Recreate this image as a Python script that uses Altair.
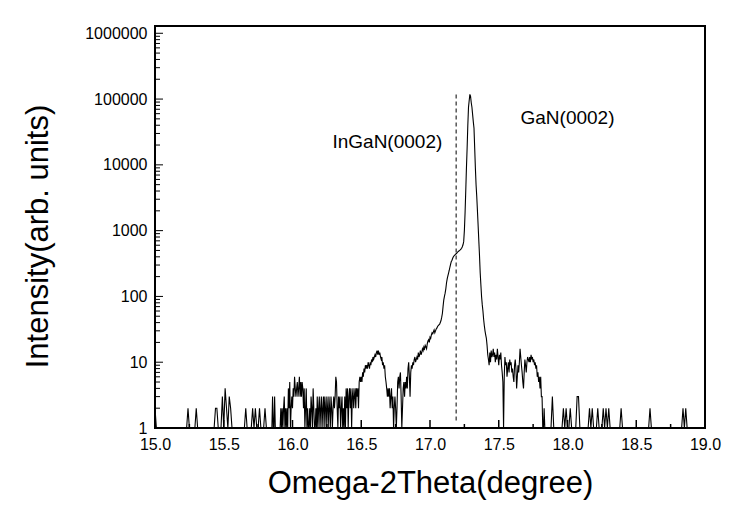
import altair as alt
import pandas as pd

# ---------------- data ----------------
# each segment: start angle, step, intensities
seg1_start, seg1_step = 15.00, 0.01
seg1 = [
    2, 1, 1, 1, 1, 1, 1, 1, 1, 1,
    1, 1, 1, 1, 1, 1, 1, 1, 1, 1,
    1, 1, 1, 1, 2, 1, 1, 1, 1, 1,
    2, 1, 1, 1, 1, 1, 1, 1, 1, 1,
    1, 1, 1, 1, 2, 2, 1, 1, 1, 3,
    1, 4, 2, 1, 3, 2, 1, 1, 1, 1,
    1, 1, 1, 1, 1, 1, 2, 1, 1, 1,
    1, 2, 1, 2, 1, 1, 2, 1, 1, 1,
    2, 1, 1, 1, 1,
]

seg2_start, seg2_step = 15.85, 0.005
seg2 = [
    1, 3, 1, 1, 3, 1, 1, 1, 1, 1,
    1, 1, 1, 2, 1, 2, 1, 2, 3, 1,
    2, 1, 2, 1, 4, 2, 5, 1, 2, 3,
    2, 4, 3, 6, 4, 3, 4, 5, 3, 4,
    6, 3, 5, 3, 5, 4, 2, 4, 1, 2,
    4, 1, 2, 1, 1, 2, 1, 3, 2, 1,
    4, 2, 1, 1, 2, 1, 3, 1, 2, 3,
    1, 2, 3, 1, 2, 3, 1, 3, 2, 1,
    3, 2, 1, 3, 2, 1, 3, 2, 1, 2,
    3, 2, 3, 6, 5, 2, 1, 3, 2, 3,
    1, 2, 3, 1, 2, 1, 3, 1, 4, 2,
    4, 1, 3, 4, 2, 4, 1, 3, 4, 2,
    3, 4, 2, 4, 3, 4, 2, 5, 6, 5,
    6,
]

seg3_start, seg3_step = 16.505, 0.005
seg3 = [
    5, 7, 6, 8, 7, 9, 8, 9, 8, 10,
    9, 8, 10, 9, 11, 10, 12, 11, 12, 13,
    12, 14, 15, 13, 15, 13, 14, 12, 11, 12,
    9, 10, 8, 9, 6, 5, 4, 3, 4, 3,
    4, 2, 3, 4, 2, 3, 1, 2, 3, 2,
    1, 2, 5, 6, 4, 6, 7, 3, 1, 2,
    4, 5, 3, 5, 4, 6, 4, 8, 10, 6,
    3, 7, 9, 8, 10, 9, 11, 12, 10, 11,
    12, 11, 14, 12, 13, 15, 13, 14, 16, 15,
    17, 16, 18, 17, 16, 19, 21, 22, 20, 24,
]

seg4_start, seg4_step = 17.005, 0.005
seg4 = [
    23, 26, 28, 27, 29, 31, 28, 30, 32, 33,
    35, 36, 37, 38, 40, 43, 48, 55, 70, 88,
    100, 112, 130, 160, 185, 205, 226, 250, 280, 310,
    340, 355, 380, 400, 415, 425, 435, 445, 455, 470,
    480, 490, 500, 510, 525, 540, 570, 610, 680, 1000,
    1850, 4000, 9000, 18000, 40000, 75000, 95000, 118000, 110000, 88000,
    75000, 58000, 45000, 36000, 18000, 9000, 5000, 3300, 2000, 1200,
    700, 420, 230, 150, 100, 75, 60, 45, 36, 30,
    26, 23, 18, 13, 11, 9, 14, 10, 15, 12,
]

seg5_start, seg5_step = 17.455, 0.005
seg5 = [
    13, 16, 12, 14, 10, 13, 11, 16, 12, 9,
    13, 11, 14, 9, 7, 5, 1, 6, 12, 9,
    10, 6, 8, 10, 7, 11, 9, 10, 7, 8,
    6, 5, 9, 11, 8, 4, 6, 9, 7, 10,
    16, 12, 9, 7, 5, 4, 7, 11, 9, 7,
    10, 12, 11, 10, 12, 10, 13, 11, 12, 10,
    11, 9, 10, 8, 9, 6, 7, 5, 6, 4,
    6, 3, 3, 1, 1, 2, 1, 1, 1, 1,
]

seg6_start, seg6_step = 17.86, 0.01
seg6 = [
    1, 1, 1, 3, 1, 1, 1, 1, 1, 1,
    1, 2, 1, 2, 1, 1, 2, 1, 1, 1,
    1, 3, 3, 1, 1, 1, 1, 1, 1, 1,
    2, 1, 2, 1, 1, 1, 2, 1, 1, 1,
    2, 1, 2, 1, 2, 1, 1, 1, 1, 1,
    1, 1, 1, 2, 1, 1, 1, 1, 1, 1,
    1, 1, 1, 1, 1, 1, 1, 1, 1, 1,
    1, 1, 1, 1, 2, 1, 1, 1, 1, 1,
    1, 1, 1, 1, 1, 1, 1, 1, 1, 1,
    1, 1, 1, 1, 1, 1, 1, 1, 2, 1,
    2, 1, 1, 1, 1, 1, 1, 1, 1, 1,
    1, 1, 1, 1, 1,
]

# dashed marker line (InGaN position)
marker_x = [17.19]
marker_y_low = [1.3]
marker_y_high = [123000]

# annotations
label_text = ["InGaN(0002)", "GaN(0002)"]
label_x = [16.69, 18.0]
label_y = [22200, 51400]

# axis ticks / labels
x_major = [15.0, 15.5, 16.0, 16.5, 17.0, 17.5, 18.0, 18.5, 19.0]
x_minor = [15.25, 15.75, 16.25, 16.75, 17.25, 17.75, 18.25, 18.75]
y_major = [1, 10, 100, 1000, 10000, 100000, 1000000]
y_minor = [k * d for d in [1, 10, 100, 1000, 10000, 100000] for k in range(2, 10)]

# ---------------- build table ----------------
segments = [
    (seg1_start, seg1_step, seg1),
    (seg2_start, seg2_step, seg2),
    (seg3_start, seg3_step, seg3),
    (seg4_start, seg4_step, seg4),
    (seg5_start, seg5_step, seg5),
    (seg6_start, seg6_step, seg6),
]
xs, ys = [], []
for start, step, vals in segments:
    for i, v in enumerate(vals):
        xs.append(round(start + i * step, 4))
        ys.append(v)
df = pd.DataFrame({"theta": xs, "intensity": ys})

FONT = "Liberation Sans"
W, H = 550, 402

xscale = alt.Scale(domain=[15, 19], nice=False, zero=False)
yscale = alt.Scale(type="log", domain=[1, 1.29e6], nice=False)

x_axis = alt.Axis(values=x_major, format=".1f", title="Omega-2Theta(degree)",
                  grid=False, ticks=False, tickSize=0, domain=False,
                  labelFont=FONT, labelFontSize=16, labelColor="black",
                  labelPadding=8, labelFlush=False,
                  titleFont=FONT, titleFontSize=31, titleFontWeight="normal",
                  titleColor="black", titleBaseline="alphabetic",
                  titleY=64, titleX=W / 2)
y_axis = alt.Axis(values=y_major, format="d", title="Intensity(arb. units)",
                  grid=False, ticks=False, tickSize=0, domain=False,
                  labelFont=FONT, labelFontSize=16, labelColor="black",
                  labelPadding=8, labelFlush=False,
                  titleFont=FONT, titleFontSize=31, titleFontWeight="normal",
                  titleColor="black", titleBaseline="alphabetic",
                  titleX=-108, titleY=210, titleAngle=270)


def X(field="theta"):
    return alt.X(f"{field}:Q", scale=xscale, axis=x_axis)


def Y(field="intensity"):
    return alt.Y(f"{field}:Q", scale=yscale, axis=y_axis)


line = alt.Chart(df).mark_line(color="black", strokeWidth=1.1, clip=True).encode(
    x=X(), y=Y())

marker = alt.Chart(pd.DataFrame({"theta": marker_x, "intensity": marker_y_low,
                                 "intensity2": marker_y_high})).mark_rule(
    color="black", strokeWidth=1, strokeDash=[4, 3]
).encode(x=X(), y=Y(), y2="intensity2:Q")

labels = alt.Chart(pd.DataFrame({"theta": label_x, "intensity": label_y, "t": label_text})).mark_text(
    font=FONT, fontSize=19, color="black", align="center", baseline="middle"
).encode(x=X(), y=Y(), text="t:N")

ymaj_ticks = alt.Chart(pd.DataFrame({"intensity": y_major})).mark_rule(color="black", strokeWidth=1).encode(
    y=Y(), x=alt.value(0), x2=alt.value(8))
ymin_ticks = alt.Chart(pd.DataFrame({"intensity": y_minor})).mark_rule(color="black", strokeWidth=1).encode(
    y=Y(), x=alt.value(0), x2=alt.value(5))
xmaj_ticks = alt.Chart(pd.DataFrame({"theta": x_major})).mark_rule(color="black", strokeWidth=1.5).encode(
    x=X(), y=alt.value(H), y2=alt.value(H - 8))
xmin_ticks = alt.Chart(pd.DataFrame({"theta": x_minor})).mark_rule(color="black", strokeWidth=1.5).encode(
    x=X(), y=alt.value(H), y2=alt.value(H - 4))

chart = alt.layer(line, marker, labels, ymaj_ticks, ymin_ticks, xmaj_ticks, xmin_ticks).properties(
    width=W, height=H,
    autosize=alt.AutoSizeParams(type="none"),
    padding={"left": 155, "top": 26, "right": 34, "bottom": 79},
    background="white",
).configure(font=FONT).configure_view(stroke="black", strokeWidth=2)

chart.save("out.html", embed_options={"renderer": "svg", "actions": False})
